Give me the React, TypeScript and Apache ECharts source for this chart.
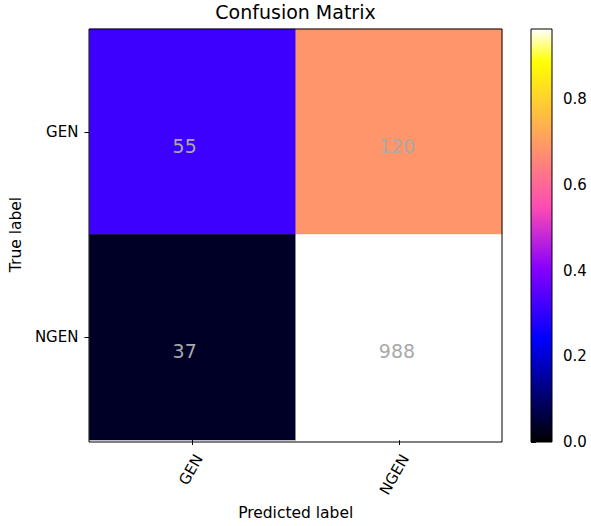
import React, { useEffect, useRef } from "react";
import * as echarts from "echarts";

const predictedLabels = ["GEN", "NGEN"];
const trueLabels = ["GEN", "NGEN"];
// counts[row = true label][col = predicted label]
const counts = [
  [55, 120],
  [37, 988],
];
const colorbarTicks = [0, 0.2, 0.4, 0.6, 0.8];

// gnuplot2 colormap break points (piecewise linear)
const CMAP_STOPS: [number, number[]][] = [
  [0, [0, 0, 0]],
  [0.25, [0, 0, 255]],
  [0.42, [135, 0, 255]],
  [0.57, [255, 76, 178]],
  [0.92, [255, 255, 0]],
  [1, [255, 255, 255]],
];

const FONT = "DejaVu Sans";
const FS = 15.5;

function cmap(t: number): string {
  for (let i = 0; i < CMAP_STOPS.length - 1; i++) {
    const [a, ca] = CMAP_STOPS[i];
    const [b, cb] = CMAP_STOPS[i + 1];
    if (t <= b + 1e-9) {
      const f = b === a ? 0 : (t - a) / (b - a);
      const c = ca.map((v, k) => Math.round(v + (cb[k] - v) * f));
      return `rgb(${c[0]},${c[1]},${c[2]})`;
    }
  }
  return "rgb(255,255,255)";
}

export default function App() {
  const ref = useRef<HTMLDivElement>(null);
  useEffect(() => {
    if (!ref.current) return;
    const chart = echarts.init(ref.current, undefined, { renderer: "svg" });

    const normalized = counts.map((row) => {
      const s = row.reduce((a, b) => a + b, 0);
      return row.map((v) => v / s);
    });
    const vmax = Math.max(...normalized.flat());
    const data: any[] = [];
    counts.forEach((row, i) =>
      row.forEach((v, j) => data.push([j, i, normalized[i][j], v]))
    );
    const samples: string[] = [];
    for (let k = 0; k <= 100; k++) samples.push(cmap(k / 100));

    const gridM = { left: 89, top: 29, width: 413, height: 413 };
    const gridC = { left: 531, top: 29, width: 21, height: 413 };

    chart.setOption({
      animation: false,
      backgroundColor: "#ffffff",
      textStyle: { fontFamily: FONT },
      title: {
        text: "Confusion Matrix",
        left: "center",
        top: 2,
        padding: 0,
        textStyle: { fontFamily: FONT, fontSize: 19, fontWeight: "normal", color: "#000" },
      },
      grid: [
        { ...gridM, containLabel: false },
        { ...gridC, containLabel: false },
      ],
      xAxis: [
        {
          type: "category",
          gridIndex: 0,
          data: predictedLabels,
          name: "Predicted label",
          nameLocation: "middle",
          nameGap: 65,
          nameTextStyle: { fontFamily: FONT, fontSize: FS, color: "#000" },
          axisLine: { show: false },
          axisTick: { show: true, alignWithLabel: true, length: 5, lineStyle: { color: "#000" } },
          axisLabel: {
            rotate: 60,
            interval: 0,
            margin: 12,
            align: "right",
            verticalAlign: "top",
            fontFamily: FONT,
            fontSize: 15,
            color: "#000",
          },
          splitLine: { show: false },
        },
        {
          type: "value",
          gridIndex: 1,
          min: 0,
          max: 1,
          show: false,
        },
      ],
      yAxis: [
        {
          type: "category",
          gridIndex: 0,
          data: trueLabels,
          inverse: true,
          name: "True label",
          nameLocation: "middle",
          nameGap: 64,
          nameTextStyle: { fontFamily: FONT, fontSize: FS, color: "#000" },
          axisLine: { show: false },
          axisTick: { show: true, alignWithLabel: true, length: 5, lineStyle: { color: "#000" } },
          axisLabel: { interval: 0, margin: 11, fontFamily: FONT, fontSize: 15, color: "#000" },
          splitLine: { show: false },
        },
        {
          type: "value",
          gridIndex: 1,
          position: "right",
          min: 0,
          max: vmax,
          interval: 0.2,
          axisLine: { show: false },
          axisTick: { show: true, length: 5, lineStyle: { color: "#000" } },
          axisLabel: {
            margin: 11,
            fontFamily: FONT,
            fontSize: 15,
            color: "#000",
            formatter: (v: number) =>
              colorbarTicks.some((t) => Math.abs(t - v) < 1e-9) ? v.toFixed(1) : "",
          },
          splitLine: { show: false },
        },
      ],
      visualMap: {
        show: false,
        type: "continuous",
        min: 0,
        max: vmax,
        dimension: 2,
        seriesIndex: 0,
        inRange: { color: samples },
      },
      series: [
        {
          type: "heatmap",
          xAxisIndex: 0,
          yAxisIndex: 0,
          data,
          itemStyle: { borderWidth: 0 },
          emphasis: { disabled: true },
          label: {
            show: true,
            formatter: (p: any) => String(p.data[3]),
            color: "#a9a9a9",
            fontFamily: FONT,
            fontSize: 19,
            align: "left",
            verticalAlign: "middle",
            offset: [-20, 14],
          },
        },
        {
          type: "line",
          xAxisIndex: 1,
          yAxisIndex: 1,
          data: [],
          silent: true,
        },
      ],
      graphic: [
        {
          type: "rect",
          z: 100,
          silent: true,
          shape: { x: gridC.left, y: gridC.top, width: gridC.width, height: gridC.height },
          style: {
            fill: new echarts.graphic.LinearGradient(
              0,
              1,
              0,
              0,
              CMAP_STOPS.map(([o, c]) => ({ offset: o, color: `rgb(${c[0]},${c[1]},${c[2]})` }))
            ),
            stroke: "#000",
            lineWidth: 1,
          },
        },
        {
          type: "rect",
          z: 100,
          silent: true,
          shape: { x: gridM.left, y: gridM.top, width: gridM.width, height: gridM.height },
          style: { fill: "none", stroke: "#000", lineWidth: 1 },
        },
      ],
    });
    return () => chart.dispose();
  }, []);
  return (
    <div
      ref={ref}
      style={{ position: "absolute", left: 0, top: 0, width: 591, height: 526 }}
    />
  );
}
